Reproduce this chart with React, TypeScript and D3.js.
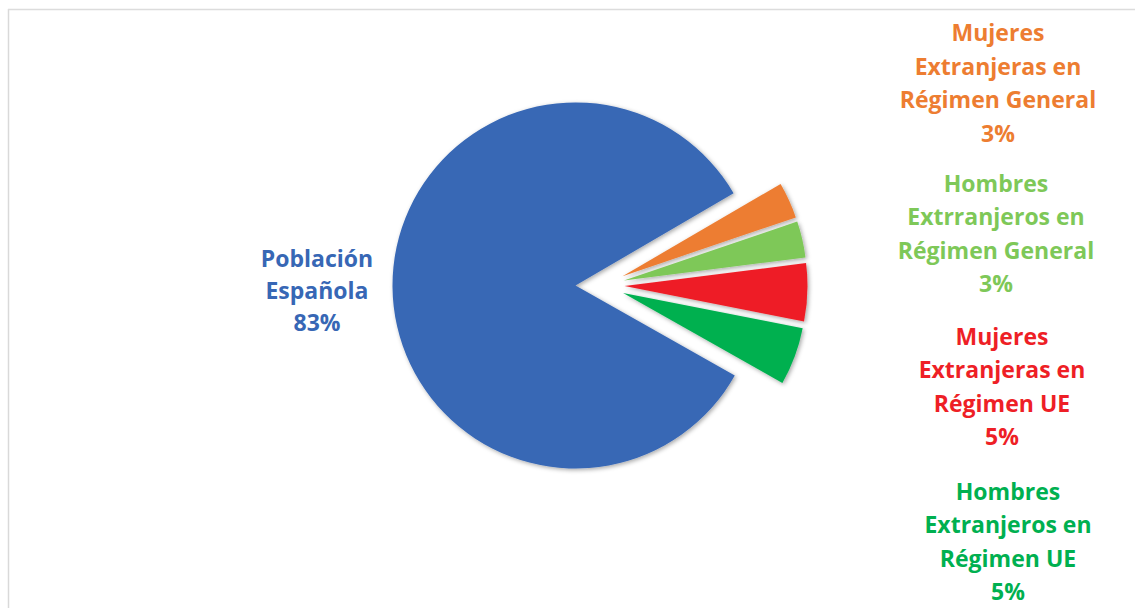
import React from 'react';
import * as d3 from 'd3';

const categories = [
  'Población Española',
  'Mujeres Extranjeras en Régimen General',
  'Hombres Extrranjeros en Régimen General',
  'Mujeres Extranjeras en Régimen UE',
  'Hombres Extranjeros en Régimen UE',
];
const values = [83.4, 3.2, 3.2, 5.1, 5.1];
const percentLabels = ['83%', '3%', '3%', '5%', '5%'];
const labelLines = [
  ['Población', 'Española'],
  ['Mujeres', 'Extranjeras en', 'Régimen General'],
  ['Hombres', 'Extrranjeros en', 'Régimen General'],
  ['Mujeres', 'Extranjeras en', 'Régimen UE'],
  ['Hombres', 'Extranjeros en', 'Régimen UE'],
];
const colors = ['#3767b5', '#ed7d31', '#7ec858', '#ee1f26', '#00b050'];
const exploded = [false, true, true, true, true];

const W = 1135;
const H = 608;

export default function App() {
  const cx = 575.5;
  const cy = 285.5;
  const R = 183;
  const groupDist = 27;
  const sliceDist = 22;
  const start = (119.5 * Math.PI) / 180;

  const pie = d3
    .pie<number>()
    .sort(null)
    .value((d) => d)
    .startAngle(start)
    .endAngle(start + 2 * Math.PI);
  const arcs = pie(values);
  const arcGen = d3.arc<d3.PieArcDatum<number>>().innerRadius(0).outerRadius(R);

  const expArcs = arcs.filter((_, i) => exploded[i]);
  const gStart = d3.min(expArcs, (a) => a.startAngle) as number;
  const gEnd = d3.max(expArcs, (a) => a.endAngle) as number;
  const gMid = (gStart + gEnd) / 2;

  const rightXs = [998, 996, 1002, 1008];
  const rightLineH = 33.5;
  const rightCenters = [82.5, 233, 386, 541];
  const fontFamily = "'Open Sans', 'Noto Sans', sans-serif";

  return (
    <div style={{ position: 'absolute', left: 0, top: 0, width: W, height: H, background: '#fff' }}>
      <svg width={W} height={H} style={{ display: 'block' }}>
        <defs>
          <filter id="shadow" x="-20%" y="-20%" width="140%" height="140%">
            <feDropShadow dx="1.5" dy="1.5" stdDeviation="2.2" floodColor="#000" floodOpacity="0.35" />
          </filter>
        </defs>
        <rect x={0} y={0} width={W} height={H} fill="#fff" />
        <line x1={8.5} y1={9} x2={8.5} y2={H} stroke="#d9d9d9" strokeWidth={1.5} />
        <line x1={8} y1={9.5} x2={W} y2={9.5} stroke="#dcdcdc" strokeWidth={1.5} />
        <g transform={`translate(${cx},${cy})`}>
          {arcs.map((a, i) => {
            const mid = (a.startAngle + a.endAngle) / 2;
            let tx = 0;
            let ty = 0;
            if (exploded[i]) {
              tx = groupDist * Math.sin(gMid) + sliceDist * Math.sin(mid);
              ty = -groupDist * Math.cos(gMid) - sliceDist * Math.cos(mid);
            }
            return (
              <path
                key={categories[i]}
                d={arcGen(a) || ''}
                transform={`translate(${tx},${ty})`}
                fill={colors[i]}
                filter="url(#shadow)"
              />
            );
          })}
        </g>
        <text textAnchor="middle" fontFamily={fontFamily} fontWeight={700} fontSize={23} fill={colors[0]}>
          {[...labelLines[0], percentLabels[0]].map((t, j) => (
            <tspan key={j} x={317} y={258 + j * 32} dominantBaseline="central">
              {t}
            </tspan>
          ))}
        </text>
        {[1, 2, 3, 4].map((i, k) => {
          const lines = [...labelLines[i], percentLabels[i]];
          const c = rightCenters[k];
          const y0 = c - ((lines.length - 1) * rightLineH) / 2;
          return (
            <text
              key={categories[i]}
              textAnchor="middle"
              fontFamily={fontFamily}
              fontWeight={700}
              fontSize={23}
              fill={colors[i]}
            >
              {lines.map((t, j) => (
                <tspan key={j} x={rightXs[k]} y={y0 + j * rightLineH} dominantBaseline="central">
                  {t}
                </tspan>
              ))}
            </text>
          );
        })}
      </svg>
    </div>
  );
}
